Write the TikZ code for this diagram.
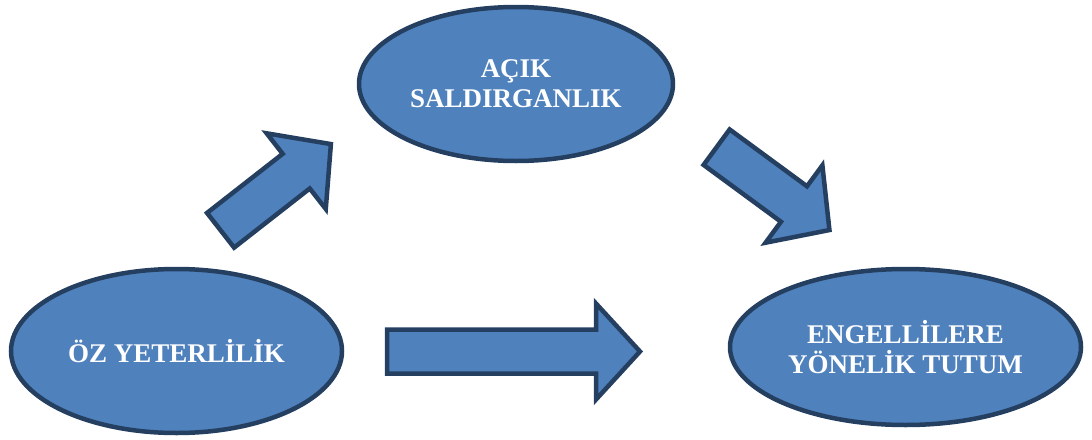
\documentclass[tikz,border=0pt]{standalone}
\usepackage{fontspec}
\setmainfont{Liberation Serif}
\usetikzlibrary{shapes.geometric}
\definecolor{ellfill}{HTML}{4F81BD}
\definecolor{elldraw}{HTML}{243F60}
\begin{document}
\begin{tikzpicture}[x=1pt,y=-1pt,
  ell/.style={ellipse, draw=elldraw, fill=ellfill, line width=4.5pt, inner sep=0pt,
    text=white, align=center, font=\bfseries\fontsize{27}{30}\selectfont},
  blockarrow/.style={draw=elldraw, fill=ellfill, line width=4.5pt, line join=miter}]
\useasboundingbox (0,0) rectangle (1092,439);
\node[ell, minimum width=331pt, minimum height=164pt] (oz) at (176.5,351) {ÖZ YETERLİLİK};
\node[ell, minimum width=314pt, minimum height=154pt] (acik) at (516,84) {AÇIK\\SALDIRGANLIK};
\node[ell, minimum width=351pt, minimum height=156pt] (tutum) at (905.5,347) {ENGELLİLERE\\YÖNELİK TUTUM};
% block arrows
\newcommand{\blockarrowpath}[1]{(2,22) -- (#1-47,22) -- (#1-47,48) -- (#1-3,0) -- (#1-47,-48) -- (#1-47,-22) -- (2,-22) -- cycle}
\draw[blockarrow, shift={(219,231.5)}, rotate=38] \blockarrowpath{145};
\draw[blockarrow, shift={(715,146)}, rotate=-36.3] \blockarrowpath{145};
\draw[blockarrow, shift={(385,351.5)}] \blockarrowpath{258};
\end{tikzpicture}
\end{document}
